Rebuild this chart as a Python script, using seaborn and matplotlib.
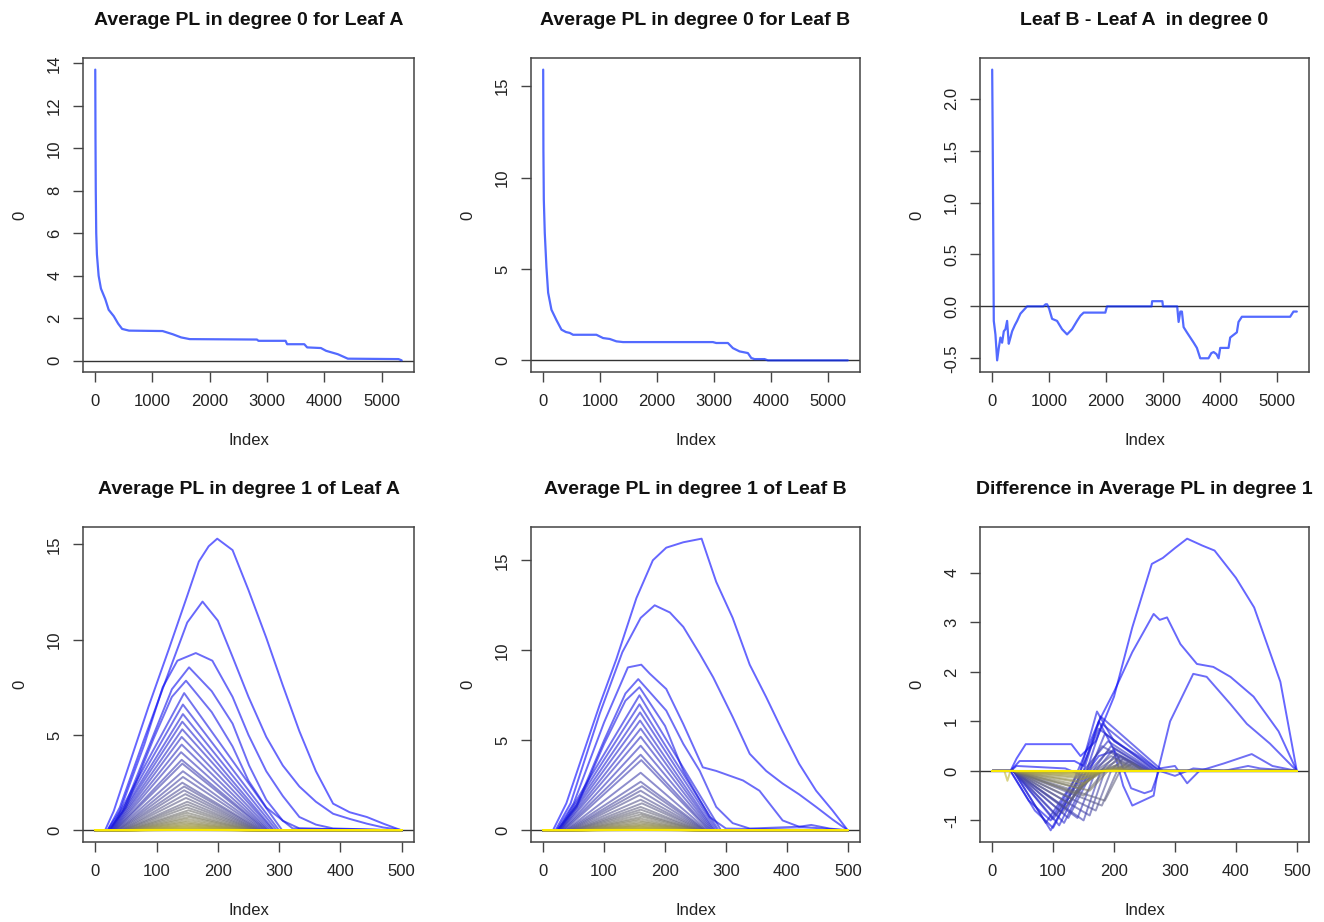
import numpy as np
import pandas as pd
import matplotlib
matplotlib.use("Agg")
import matplotlib.pyplot as plt
import seaborn as sns
from matplotlib.colors import LinearSegmentedColormap

# ---- degree 0 average landscapes (index, value) ----
a0_idx = [1, 5, 10, 18, 30, 60, 100, 176, 235, 324, 400, 470, 590, 1176, 1353, 1500, 1650,
          2823, 2850, 3323, 3350, 3650, 3700, 3940, 4030, 4235, 4410, 5294, 5350]
a0_val = [13.7, 10.5, 8.0, 6.0, 5.0, 4.0, 3.4, 2.9, 2.4, 2.1, 1.75, 1.5, 1.42, 1.4, 1.25, 1.1, 1.02,
          1.0, 0.94, 0.94, 0.78, 0.78, 0.63, 0.6, 0.47, 0.31, 0.1, 0.08, 0.02]

b0_idx = [1, 5, 12, 29, 58, 88, 146, 234, 322, 400, 468, 526, 936, 1053, 1170, 1287, 1404,
          2982, 3040, 3245, 3333, 3450, 3596, 3655, 3713, 3889, 3947, 5351]
b0_val = [15.9, 11.5, 8.8, 6.96, 5.1, 3.7, 2.77, 2.2, 1.68, 1.55, 1.5, 1.4, 1.4, 1.22, 1.17, 1.04, 1.0,
          1.0, 0.95, 0.95, 0.67, 0.49, 0.4, 0.13, 0.07, 0.07, 0.0, 0.0]

d0_idx = [1, 10, 29, 58, 88, 117, 146, 175, 205, 234, 263, 292, 322, 351, 400, 439, 497, 614, 900, 940,
          965, 1000, 1053, 1140, 1228, 1316, 1404, 1491, 1550, 1608, 1988, 2017, 2800, 2810, 2990, 3000,
          3250, 3275, 3305, 3333, 3363, 3420, 3480, 3540, 3596, 3655, 3800, 3850, 3890, 3940, 3977, 4006,
          4152, 4181, 4298, 4327, 4386, 5234, 5292, 5351]
d0_val = [2.28, 1.62, -0.14, -0.27, -0.52, -0.4, -0.3, -0.35, -0.24, -0.22, -0.14, -0.36, -0.3, -0.24,
          -0.18, -0.14, -0.07, 0.0, 0.0, 0.02, 0.02, -0.02, -0.12, -0.14, -0.22, -0.27, -0.22, -0.14, -0.09,
          -0.06, -0.06, 0.0, 0.0, 0.05, 0.05, 0.0, 0.0, -0.15, -0.05, -0.05, -0.2, -0.25, -0.3, -0.35, -0.4,
          -0.5, -0.5, -0.45, -0.44, -0.46, -0.5, -0.4, -0.4, -0.3, -0.25, -0.15, -0.1, -0.1, -0.05, -0.05]

# ---- degree 1, leaf A: outer landscapes traced point by point ----
a1_top = [
    ([0, 16, 30, 60, 87, 120, 150, 169, 185, 199, 224, 250, 279, 306, 333, 360, 388, 415, 443, 470, 497, 500],
     [0, 0, 1.0, 3.9, 6.5, 9.5, 12.3, 14.1, 14.9, 15.3, 14.7, 12.6, 10.1, 7.6, 5.2, 3.1, 1.4, 0.95, 0.7, 0.35, 0.03, 0]),
    ([0, 20, 40, 80, 120, 150, 175, 200, 224, 250, 279, 306, 333, 360, 388, 415, 443, 470, 497, 500],
     [0, 0, 1.2, 4.8, 8.3, 10.9, 12.0, 11.0, 9.1, 7.0, 4.9, 3.4, 2.3, 1.5, 0.87, 0.6, 0.35, 0.15, 0.03, 0]),
    ([0, 20, 40, 80, 110, 134, 164, 191, 224, 250, 279, 306, 333, 360, 388, 500],
     [0, 0, 1.0, 4.5, 7.5, 8.9, 9.3, 8.9, 7.0, 5.0, 3.1, 1.8, 0.7, 0.3, 0.1, 0]),
    ([0, 22, 45, 90, 125, 153, 190, 224, 251, 279, 306, 333, 500],
     [0, 0, 1.0, 4.6, 7.4, 8.55, 7.3, 5.6, 3.4, 1.6, 0.5, 0.1, 0]),
    ([0, 23, 50, 95, 125, 148, 190, 224, 250, 279, 322, 500],
     [0, 0, 1.2, 4.8, 7.0, 7.85, 6.2, 4.4, 2.6, 1.2, 0.1, 0]),
]
# inner landscapes: support start, peak location, peak height, support end
a1_fan_start = [24, 25, 26, 27, 28, 29, 30, 31, 32, 33, 34, 36, 37, 38, 40, 42, 43, 45, 46, 48,
                50, 52, 53, 55, 57, 58, 60, 62, 64, 65, 67, 68, 70, 72, 74, 75]
a1_fan_px = [145, 143, 143, 142, 142, 141, 141, 140, 141, 142, 143, 143, 142, 145, 145, 147, 148, 150,
             150, 150, 152, 150, 150, 152, 150, 150, 148, 150, 150, 150, 150, 152, 150, 150, 150, 150]
a1_fan_peak = [7.2, 6.6, 6.1, 5.7, 5.3, 4.9, 4.5, 4.1, 3.7, 3.5, 3.1, 2.8, 2.5, 2.3, 2.1, 1.9, 1.7, 1.5,
               1.35, 1.2, 1.05, 0.92, 0.8, 0.7, 0.6, 0.5, 0.42, 0.35, 0.28, 0.22, 0.17, 0.12, 0.08, 0.05, 0.03, 0.02]
a1_fan_end = [305, 300, 296, 292, 290, 287, 284, 282, 280, 278, 276, 274, 272, 270, 268, 266, 265, 263,
              262, 260, 258, 256, 255, 253, 252, 250, 248, 246, 245, 243, 242, 240, 238, 236, 235, 232]
a1_n_zero = 10

# ---- degree 1, leaf B ----
b1_top = [
    ([0, 16, 38, 66, 93, 120, 153, 180, 202, 230, 260, 284, 311, 339, 366, 393, 420, 448, 475, 500],
     [0, 0, 1.5, 4.3, 7.0, 9.5, 12.9, 15.0, 15.7, 16.0, 16.2, 13.8, 11.8, 9.2, 7.4, 5.5, 3.7, 2.2, 1.1, 0]),
    ([0, 20, 45, 93, 130, 160, 183, 208, 230, 257, 279, 311, 339, 366, 393, 420, 448, 475, 500],
     [0, 0, 1.5, 6.5, 9.9, 11.8, 12.5, 12.1, 11.3, 9.8, 8.5, 6.3, 4.25, 3.3, 2.6, 2.0, 1.3, 0.6, 0]),
    ([0, 22, 50, 100, 139, 161, 175, 202, 230, 262, 284, 328, 355, 393, 420, 460, 500],
     [0, 0, 1.5, 6.0, 9.05, 9.2, 8.7, 7.85, 5.9, 3.5, 3.3, 2.77, 2.2, 0.55, 0.2, 0.1, 0]),
    ([0, 23, 55, 100, 135, 156, 202, 230, 257, 284, 311, 339, 380, 420, 440, 470, 500],
     [0, 0, 1.4, 5.0, 7.6, 8.4, 6.65, 4.8, 3.3, 1.3, 0.4, 0.1, 0.15, 0.2, 0.3, 0.1, 0]),
    ([0, 24, 55, 100, 135, 158, 200, 230, 273, 300, 500],
     [0, 0, 1.3, 4.8, 7.2, 7.95, 5.8, 3.3, 0.74, 0.1, 0]),
]
b1_fan_start = [25, 26, 27, 28, 29, 30, 32, 33, 35, 37, 38, 40, 42, 44, 45, 47, 49, 50, 52, 54,
                56, 58, 60, 62, 63, 65, 67, 68, 70, 72, 74, 75, 77, 78]
b1_fan_px = [158, 158, 159, 159, 160, 160, 160, 160, 161, 160, 160, 162, 160, 158, 160, 162, 160,
             160, 158, 160, 162, 160, 158, 160, 160, 162, 160, 158, 160, 160, 160, 160, 160, 160]
b1_fan_peak = [7.5, 7.0, 6.55, 6.1, 5.65, 5.2, 4.7, 4.2, 3.9, 3.2, 2.7, 2.45, 2.2, 1.95, 1.7, 1.5, 1.3,
               1.15, 1.0, 0.88, 0.76, 0.65, 0.55, 0.46, 0.38, 0.31, 0.25, 0.2, 0.15, 0.11, 0.08, 0.05, 0.03, 0.02]
b1_fan_end = [292, 288, 285, 282, 280, 278, 276, 274, 272, 270, 268, 266, 265, 264, 262, 260, 258,
              257, 255, 254, 252, 250, 249, 248, 246, 245, 244, 242, 240, 239, 238, 236, 235, 234]
b1_n_zero = 10

# ---- degree 1, difference B - A ----
d1_top = [
    ([0, 30, 40, 55, 130, 145, 170, 200, 230, 262, 280, 300, 320, 345, 365, 400, 430, 473, 500],
     [0, 0, 0.25, 0.54, 0.54, 0.3, 0.6, 1.5, 2.9, 4.18, 4.3, 4.5, 4.69, 4.55, 4.45, 3.9, 3.3, 1.8, 0]),
    ([0, 30, 45, 135, 150, 175, 200, 230, 265, 275, 287, 309, 336, 363, 391, 429, 470, 500],
     [0, 0, 0.2, 0.2, 0.1, 1.0, 1.6, 2.4, 3.17, 3.05, 3.1, 2.56, 2.16, 2.1, 1.9, 1.5, 0.8, 0]),
    ([0, 30, 40, 120, 150, 175, 200, 215, 230, 265, 272, 292, 330, 352, 391, 418, 456, 500],
     [0, 0, 0.1, 0.05, -0.1, 0.3, 0.4, -0.3, -0.7, -0.5, 0, 1.0, 1.96, 1.9, 1.35, 0.95, 0.55, 0]),
    ([0, 30, 60, 96, 130, 175, 210, 228, 250, 262, 275, 300, 320, 340, 380, 426, 460, 500],
     [0, 0, -0.6, -1.0, -0.3, 1.0, 0.2, -0.35, -0.45, -0.4, 0.05, 0.1, -0.25, 0, 0.15, 0.34, 0.1, 0]),
    ([0, 30, 70, 100, 140, 172, 200, 240, 275, 300, 330, 380, 420, 440, 500],
     [0, 0, -0.8, -1.15, -0.2, 1.2, 0.6, 0.3, 0, -0.1, 0.05, 0, 0.1, 0.05, 0]),
]
d1_fan_dip_x = [96, 110, 88, 118, 100, 125, 140, 150, 105, 160, 115, 170, 120, 180, 125, 185, 130, 150,
                135, 160, 140, 145, 150, 140, 150, 145, 150, 145, 150, 150]
d1_fan_dip = [-1.2, -1.1, -1.05, -1.05, -0.98, -0.95, -0.95, -1.0, -0.9, -0.9, -0.85, -0.8, -0.75, -0.7,
              -0.65, -0.6, -0.55, -0.5, -0.45, -0.4, -0.35, -0.3, -0.25, -0.2, -0.16, -0.12, -0.09,
              -0.06, -0.04, -0.02]
d1_fan_cross = [150, 155, 145, 160, 150, 165, 170, 178, 155, 185, 160, 195, 165, 205, 170, 210, 175, 185,
                175, 190, 180, 180, 185, 180, 185, 180, 185, 180, 185, 185]
d1_fan_px = [178, 180, 175, 185, 190, 195, 200, 205, 180, 210, 190, 215, 195, 225, 200, 230, 205, 210,
             205, 215, 205, 210, 210, 205, 210, 205, 205, 200, 200, 200]
d1_fan_peak = [1.1, 0.95, 0.85, 0.75, 0.6, 0.5, 0.45, 0.35, 0.5, 0.3, 0.4, 0.25, 0.3, 0.2, 0.25, 0.15,
               0.2, 0.15, 0.12, 0.1, 0.08, 0.06, 0.05, 0.04, 0.03, 0.02, 0.02, 0.01, 0.01, 0.01]
d1_fan_end = [280, 275, 270, 268, 265, 262, 260, 258, 255, 255, 250, 250, 248, 250, 245, 250, 240, 240,
              235, 235, 230, 230, 228, 225, 222, 220, 220, 215, 210, 210]
d1_notch_x = [0, 20, 25, 30, 500]
d1_notch_y = [0, 0, -0.2, 0, 0]
d1_n_zero = 10

titles = ["Average PL in degree 0 for Leaf A", "Average PL in degree 0 for Leaf B",
          "Leaf B - Leaf A  in degree 0", "Average PL in degree 1 of Leaf A",
          "Average PL in degree 1 of Leaf B", "Difference in Average PL in degree 1"]
yticks = [[0, 2, 4, 6, 8, 10, 12, 14], [0, 5, 10, 15], [-0.5, 0.0, 0.5, 1.0, 1.5, 2.0],
          [0, 5, 10, 15], [0, 5, 10, 15], [-1, 0, 1, 2, 3, 4]]
xticks_0 = [0, 1000, 2000, 3000, 4000, 5000]
xticks_1 = [0, 100, 200, 300, 400, 500]

sns.set_theme(style="white")
plt.rcParams["font.family"] = ["Liberation Sans", "DejaVu Sans"]
plt.rcParams["axes.unicode_minus"] = False

cmap = LinearSegmentedColormap.from_list("pl", ["#0000ff", "#707070", "#ffee00"])


def build_frame(top, fan, n_zero, extra=None):
    rows = []
    k = 0
    for xs, ys in top:
        k += 1
        rows += [(x, y, k) for x, y in zip(xs, ys)]
    for xs, ys in fan:
        k += 1
        rows += [(x, y, k) for x, y in zip(xs, ys)]
    if extra is not None:
        k += 1
        rows += [(x, y, k) for x, y in zip(*extra)]
    for _ in range(n_zero):
        k += 1
        rows += [(0, 0.0, k), (500, 0.0, k)]
    return pd.DataFrame(rows, columns=["x", "y", "k"]), k


a1_fan = [([0, s, p, e, 500], [0, 0, h, 0, 0])
          for s, p, h, e in zip(a1_fan_start, a1_fan_px, a1_fan_peak, a1_fan_end)]
b1_fan = [([0, s, p, e, 500], [0, 0, h, 0, 0])
          for s, p, h, e in zip(b1_fan_start, b1_fan_px, b1_fan_peak, b1_fan_end)]
d1_fan = [([0, 35, dx, c, p, e, 500], [0, 0, dy, 0, h, 0, 0])
          for dx, dy, c, p, h, e in zip(d1_fan_dip_x, d1_fan_dip, d1_fan_cross, d1_fan_px, d1_fan_peak, d1_fan_end)]

frames = [build_frame(a1_top, a1_fan, a1_n_zero),
          build_frame(b1_top, b1_fan, b1_n_zero),
          build_frame(d1_top, d1_fan, d1_n_zero, extra=(d1_notch_x, d1_notch_y))]

W, H = 1324, 922
fig = plt.figure(figsize=(W / 100, H / 100), dpi=100)
cols = [(83, 331), (531, 329), (980, 329)]
rows_px = [(58, 314), (527, 315)]
axes = []
for r, (top, h) in enumerate(rows_px):
    for c, (left, w) in enumerate(cols):
        axes.append(fig.add_axes([left / W, (H - top - h) / H, w / W, h / H]))


def r_limits(vals):
    lo, hi = min(vals), max(vals)
    pad = 0.04 * (hi - lo)
    return lo - pad, hi + pad


# top row
for ax, xs, ys in zip(axes[:3], [a0_idx, b0_idx, d0_idx], [a0_val, b0_val, d0_val]):
    ax.axhline(0, color="#333333", lw=1.0, zorder=1)
    sns.lineplot(x=xs, y=ys, ax=ax, color="#1030ff", alpha=0.72, lw=1.6,
                 estimator=None, sort=False, zorder=2)
    ax.set_xlim(*r_limits([1, 5351]))
    ax.set_ylim(*r_limits(ys))

# bottom row
for ax, (df, n) in zip(axes[3:], frames):
    ax.axhline(0, color="#333333", lw=1.0, zorder=1)
    sns.lineplot(data=df, x="x", y="y", hue="k", palette=cmap, hue_norm=(1, n),
                 estimator=None, sort=False, legend=False, lw=1.4, alpha=0.6, ax=ax, zorder=2)
    ax.set_xlim(*r_limits(df["x"]))
    ax.set_ylim(*r_limits(df["y"]))

for i, ax in enumerate(axes):
    ax.set_title(titles[i], fontsize=14, fontweight="bold", pad=24, color="#111111")
    ax.set_xticks(xticks_0 if i < 3 else xticks_1)
    yt = yticks[i]
    ax.set_yticks(yt)
    labs = [f"{v:.1f}" for v in yt] if i == 2 else [str(v) for v in yt]
    ax.set_yticklabels(labs, rotation=90, va="center")
    ax.tick_params(axis="both", direction="out", length=7, width=1.0, color="#444444",
                   labelsize=12, labelcolor="#222222", bottom=True, left=True)
    ax.tick_params(axis="x", pad=9)
    ax.tick_params(axis="y", pad=8)
    ax.set_xlabel("Index", fontsize=12, labelpad=17, color="#222222")
    ax.set_ylabel("0", fontsize=12, labelpad=14, color="#222222")
    for sp in ax.spines.values():
        sp.set_visible(True)
        sp.set_color("#444444")
        sp.set_linewidth(1.1)

fig.savefig("out.png", dpi=100, facecolor="white")
